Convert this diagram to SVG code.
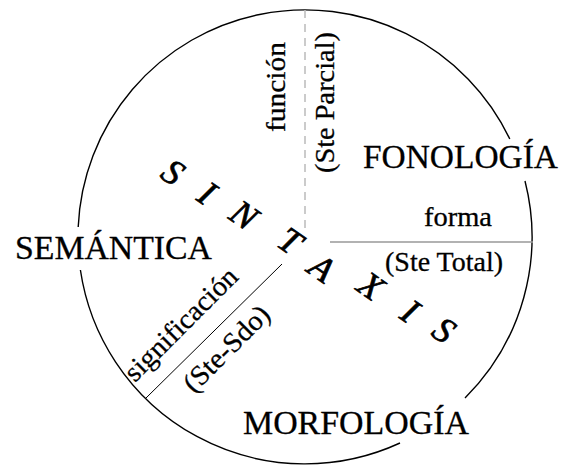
<svg xmlns="http://www.w3.org/2000/svg" width="568" height="465" viewBox="0 0 568 465">
<style>
text{font-family:"Liberation Serif","Times New Roman",serif;fill:#000;stroke:#000;stroke-width:0.3px}
.big{font-size:33px}
.sm{font-size:28px}
.sx{font-size:36px;font-style:italic;stroke-width:0.7px}
</style>
<rect width="568" height="465" fill="#fff"/>
<g id="connectors" fill="none">
<path id="circle" d="M78.2,227 A227,227 0 0 1 509.8,139 M525,181 A227,227 0 0 1 465,398 M400,443 A227,227 0 0 1 80.4,270" stroke="#000" stroke-width="1.4"/>
<line x1="305" y1="10" x2="305" y2="232" stroke="#bbb" stroke-width="1.5" stroke-dasharray="8,6"/>
<line x1="330" y1="242" x2="533" y2="242" stroke="#999" stroke-width="1.5"/>
<line x1="282" y1="264" x2="146" y2="398" stroke="#000" stroke-width="1"/>
</g>
<g id="semantica"><text class="big" x="15" y="259" textLength="197" lengthAdjust="spacingAndGlyphs">SEMÁNTICA</text></g>
<g id="fonologia"><text class="big" x="363" y="168" textLength="195" lengthAdjust="spacingAndGlyphs">FONOLOGÍA</text></g>
<g id="morfologia"><text class="big" x="243" y="434" textLength="226" lengthAdjust="spacingAndGlyphs">MORFOLOGÍA</text></g>
<g id="funcion">
<text class="sm" transform="translate(285,132) rotate(-90)" textLength="90" lengthAdjust="spacingAndGlyphs">función</text>
<text class="sm" transform="translate(334,173) rotate(-90)" textLength="141" lengthAdjust="spacingAndGlyphs">(Ste Parcial)</text>
</g>
<g id="forma">
<text class="sm" x="424" y="226" textLength="68" lengthAdjust="spacingAndGlyphs">forma</text>
<text class="sm" x="385" y="271" textLength="118" lengthAdjust="spacingAndGlyphs">(Ste Total)</text>
</g>
<g id="significacion">
<text class="sm" transform="translate(135,383) rotate(-45)" textLength="148" lengthAdjust="spacingAndGlyphs">significación</text>
<text class="sm" transform="translate(194,394) rotate(-45)" textLength="110" lengthAdjust="spacingAndGlyphs">(Ste-Sdo)</text>
</g>
<g id="sintaxis" text-anchor="middle">
<text class="sx" transform="translate(173,172) rotate(35)" dy="12">S</text>
<text class="sx" transform="translate(207,193) rotate(35)" dy="12">I</text>
<text class="sx" transform="translate(244,215) rotate(35)" dy="12">N</text>
<text class="sx" transform="translate(290,241) rotate(35)" dy="12">T</text>
<text class="sx" transform="translate(322,268) rotate(35)" dy="12">A</text>
<text class="sx" transform="translate(371,286) rotate(35)" dy="12">X</text>
<text class="sx" transform="translate(410,311) rotate(35)" dy="12">I</text>
<text class="sx" transform="translate(444,330) rotate(35)" dy="12">S</text>
</g>
</svg>
